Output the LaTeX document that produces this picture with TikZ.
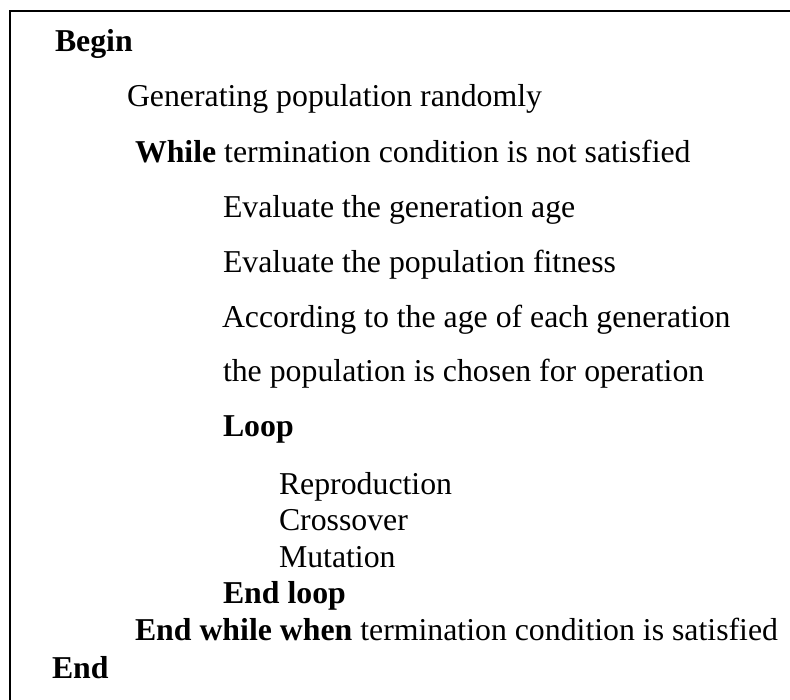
\documentclass[tikz,border=0pt]{standalone}
\usepackage{fontspec}
\setmainfont{Liberation Serif}
\begin{document}
\begin{tikzpicture}[x=1pt,y=-1pt,
  line/.style={anchor=base west,inner sep=0pt,outer sep=0pt,
    font=\fontsize{31.8}{36}\selectfont}]
\useasboundingbox (0,0) rectangle (790,700);
% open frame along the left and top edges
\draw[line width=1.9pt] (10,700) -- (10,11) -- (790,11);
\node[line] (begin) at (55,52)  {\textbf{Begin}};
\node[line] (gen)   at (127,107) {Generating population randomly};
\node[line] (while) at (135,163) {\textbf{While} termination condition is not satisfied};
\node[line] (age)   at (223,218) {Evaluate the generation age};
\node[line] (fit)   at (223,273) {Evaluate the population fitness};
\node[line] (acc)   at (222,328) {According to the age of each generation};
\node[line] (chose) at (223,382) {the population is chosen for operation};
\node[line] (loop)  at (223,437) {\textbf{Loop}};
\node[line] (rep)   at (279,494) {Reproduction};
\node[line] (cross) at (279,530) {Crossover};
\node[line] (mut)   at (279,567) {Mutation};
\node[line] (eloop) at (223,603) {\textbf{End loop}};
\node[line] (ewhile) at (135,640) {\textbf{End while when} termination condition is satisfied};
\node[line] (end)   at (52,678) {\textbf{End}};
\end{tikzpicture}
\end{document}
